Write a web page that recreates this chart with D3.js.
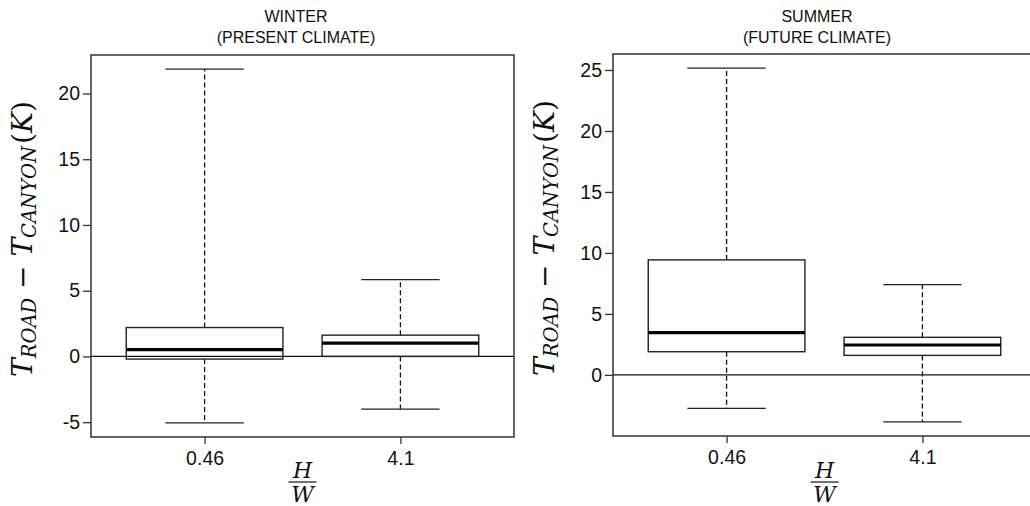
<!DOCTYPE html>
<html>
<head>
<meta charset="utf-8">
<script src="https://cdn.jsdelivr.net/npm/d3@7"></script>
<style>
  body { margin: 0; background: #fff; }
  svg { display: block; }
</style>
</head>
<body>
<svg id="chart" width="1030" height="506"></svg>
<script>
// Box-plot data
const categories = ['0.46', '4.1'];

const winterLow    = [-5.05, -4.0];
const winterQ1     = [-0.2, 0.0];
const winterMedian = [0.52, 1.02];
const winterQ3     = [2.2, 1.62];
const winterHigh   = [21.85, 5.85];

const summerLow    = [-2.75, -3.85];
const summerQ1     = [1.9, 1.6];
const summerMedian = [3.47, 2.45];
const summerQ3     = [9.43, 3.08];
const summerHigh   = [25.15, 7.4];

const winterTicks = [-5, 0, 5, 10, 15, 20];
const summerTicks = [0, 5, 10, 15, 20, 25];

const winterTitle = ['WINTER', '(PRESENT CLIMATE)'];
const summerTitle = ['SUMMER', '(FUTURE CLIMATE)'];

const SANS = '"Liberation Sans", Arial, sans-serif';
const SERIF = '"DejaVu Serif", serif';

const svg = d3.select('#chart');
svg.append('rect').attr('width', 1030).attr('height', 506).attr('fill', '#fff');

function drawPanel(opts) {
    const {left, right, top, bottom, low, q1, med, q3, high, ticks, title, titleX} = opts;

    // R style: 4% padding around the data range
    const lo = d3.min(low), hi = d3.max(high);
    const pad = (hi - lo) * 0.04;
    const y = d3.scaleLinear().domain([lo - pad, hi + pad]).range([bottom, top]);
    const x = d3.scaleLinear().domain([0.42, 2.58]).range([left, right]);

    const g = svg.append('g');

    // title
    const t = g.append('text')
        .attr('x', titleX)
        .attr('y', 22)
        .attr('text-anchor', 'middle')
        .style('font-family', SANS)
        .style('font-size', '16px')
        .attr('fill', '#111');
    title.forEach((line, i) => {
        t.append('tspan').attr('x', titleX).attr('dy', i ? 21 : 0).text(line);
    });

    // zero line
    g.append('line')
        .attr('x1', left).attr('x2', right)
        .attr('y1', y(0)).attr('y2', y(0))
        .attr('stroke', '#111').attr('stroke-width', 1.3);

    // boxes
    categories.forEach((c, i) => {
        const cx = x(i + 1);
        const bw = 0.8 * (x(1) - x(0));
        const cw = 0.4 * (x(1) - x(0));

        // whiskers
        g.append('line')
            .attr('x1', cx).attr('x2', cx)
            .attr('y1', y(q3[i])).attr('y2', y(high[i]))
            .attr('stroke', '#111').attr('stroke-width', 1.3)
            .attr('stroke-dasharray', '5,3');
        g.append('line')
            .attr('x1', cx).attr('x2', cx)
            .attr('y1', y(q1[i])).attr('y2', y(low[i]))
            .attr('stroke', '#111').attr('stroke-width', 1.3)
            .attr('stroke-dasharray', '5,3');

        // caps
        [low[i], high[i]].forEach(v => {
            g.append('line')
                .attr('x1', cx - cw / 2).attr('x2', cx + cw / 2)
                .attr('y1', y(v)).attr('y2', y(v))
                .attr('stroke', '#222').attr('stroke-width', 1.3);
        });

        g.append('rect')
            .attr('x', cx - bw / 2)
            .attr('y', y(q3[i]))
            .attr('width', bw)
            .attr('height', y(q1[i]) - y(q3[i]))
            .attr('fill', 'none')
            .attr('stroke', '#222').attr('stroke-width', 1.4);

        g.append('line')
            .attr('x1', cx - bw / 2).attr('x2', cx + bw / 2)
            .attr('y1', y(med[i])).attr('y2', y(med[i]))
            .attr('stroke', '#000').attr('stroke-width', 3.2);
    });

    // frame
    g.append('rect')
        .attr('x', left).attr('y', top)
        .attr('width', right - left).attr('height', bottom - top)
        .attr('fill', 'none')
        .attr('stroke', '#333').attr('stroke-width', 1.5);

    // y axis
    const yAxis = g.append('g')
        .attr('transform', `translate(${left},0)`)
        .call(d3.axisLeft(y).tickValues(ticks).tickSize(8).tickPadding(3)
            .tickFormat(d => d < 0 ? '-' + Math.abs(d) : d));
    yAxis.select('.domain').remove();
    yAxis.selectAll('line').attr('stroke', '#333').attr('stroke-width', 1.3);
    yAxis.selectAll('text')
        .style('font-family', SANS)
        .style('font-size', '19.5px')
        .attr('fill', '#111');

    // x axis
    const xAxis = g.append('g')
        .attr('transform', `translate(0,${bottom})`)
        .call(d3.axisBottom(x).tickValues([1, 2]).tickSize(7).tickPadding(7)
            .tickFormat((d, i) => categories[i]));
    xAxis.select('.domain').remove();
    xAxis.selectAll('line').attr('stroke', '#333').attr('stroke-width', 1.3);
    xAxis.selectAll('text')
        .style('font-family', SANS)
        .style('font-size', '19.5px')
        .attr('fill', '#111');

    // y label: T_ROAD - T_CANYON (K)
    const labX = left - 59;
    const labY = (top + bottom) / 2 - 7;
    const lab = g.append('text')
        .attr('transform', `translate(${labX},${labY}) rotate(-90)`)
        .attr('text-anchor', 'middle')
        .style('font-family', SERIF)
        .style('font-size', '28px')
        .attr('fill', '#111');
    lab.append('tspan').style('font-style', 'italic').text('T');
    lab.append('tspan').style('font-style', 'italic').style('font-size', '19.5px').attr('dy', 4).text('ROAD');
    lab.append('tspan').attr('dy', -4).text(' \u2212 ');
    lab.append('tspan').style('font-style', 'italic').text('T');
    lab.append('tspan').style('font-style', 'italic').style('font-size', '19.5px').attr('dy', 4).text('CANYON');
    lab.append('tspan').attr('dy', -4).attr('dx', 2).text('(');
    lab.append('tspan').style('font-style', 'italic').text('K');
    lab.append('tspan').text(')');

    // x label: H / W fraction
    const fracX = (left + right) / 2;
    const xl = g.append('g').attr('transform', `translate(${fracX},0)`);
    xl.append('text').attr('x', 0).attr('y', 478)
        .attr('text-anchor', 'middle')
        .style('font-family', SERIF)
        .style('font-style', 'italic')
        .style('font-size', '22px')
        .attr('fill', '#111')
        .text('H');
    xl.append('line').attr('x1', -14).attr('x2', 14).attr('y1', 482).attr('y2', 482)
        .attr('stroke', '#111').attr('stroke-width', 1.2);
    xl.append('text').attr('x', 0).attr('y', 502)
        .attr('text-anchor', 'middle')
        .style('font-family', SERIF)
        .style('font-style', 'italic')
        .style('font-size', '22px')
        .attr('fill', '#111')
        .text('W');
}

drawPanel({
    left: 91, right: 514, top: 55, bottom: 437,
    low: winterLow, q1: winterQ1, med: winterMedian, q3: winterQ3, high: winterHigh,
    ticks: winterTicks, title: winterTitle, titleX: 296
});

drawPanel({
    left: 613, right: 1036, top: 54, bottom: 436,
    low: summerLow, q1: summerQ1, med: summerMedian, q3: summerQ3, high: summerHigh,
    ticks: summerTicks, title: summerTitle, titleX: 817
});
</script>
</body>
</html>
